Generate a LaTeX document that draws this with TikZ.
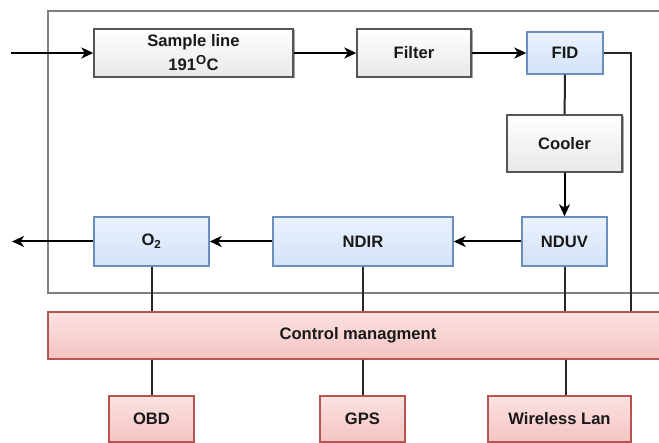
\documentclass[tikz,border=0pt]{standalone}
\usepackage{fontspec}
\setmainfont{Liberation Sans}
\usetikzlibrary{arrows.meta,shadows}
\definecolor{gborder}{HTML}{555555}
\definecolor{bborder}{HTML}{6C8EBF}
\definecolor{rborder}{HTML}{B85450}
\definecolor{frame}{HTML}{808080}
\definecolor{HTML-b0}{HTML}{EAF2FD}
\definecolor{HTML-b1}{HTML}{D3E2F8}
\definecolor{HTML-r0}{HTML}{FBE2E1}
\definecolor{HTML-r1}{HTML}{F4C4C2}
\tikzset{
  base/.style={draw, line width=1.4pt, align=center, inner sep=0pt, font=\fontsize{16.6}{24}\selectfont\bfseries, text=black!90},
  gbox/.style={base, draw=gborder, top color=white, bottom color=black!9,
     drop shadow={shadow xshift=1.5pt, shadow yshift=-1.5pt, opacity=0.35, fill=black}},
  bbox/.style={base, draw=bborder, top color=HTML-b0, bottom color=HTML-b1},
  rbox/.style={base, draw=rborder, top color=HTML-r0, bottom color=HTML-r1},
  arr/.style={draw=black, line width=2pt, -{Stealth[length=12pt,width=11pt,inset=3.5pt]}},
  ln/.style={draw=black!85, line width=2pt},
}
\begin{document}
\begin{tikzpicture}[x=1pt,y=-1pt]
\useasboundingbox (0,0) rectangle (659,443);
\clip (0,0) rectangle (659,443);
% frame
\draw[frame, line width=1.3pt] (690,11) -- (48,11) -- (48,293) -- (690,293);
% nodes
\node[gbox, minimum width=199pt, minimum height=48pt] (sample) at (193.5,53) {Sample line\\191\textsuperscript{\fontsize{13}{13}\selectfont O}C};
\node[gbox, minimum width=114pt, minimum height=48pt] (filter) at (414,53) {Filter};
\node[bbox, minimum width=76pt, minimum height=42pt] (fid) at (565,53) {FID};
\node[gbox, minimum width=115pt, minimum height=57pt] (cooler) at (564.5,143.5) {Cooler};
\node[bbox, minimum width=85pt, minimum height=49pt] (nduv) at (564.5,241.5) {NDUV};
\node[bbox, minimum width=180pt, minimum height=49pt] (ndir) at (363,241.5) {NDIR};
\node[bbox, minimum width=115pt, minimum height=49pt] (o2) at (151.5,241.5) {O\textsubscript{2}};
\node[rbox, minimum width=620pt, minimum height=47pt] (ctrl) at (358,335.5) {Control managment};
\node[rbox, minimum width=85pt, minimum height=46pt] (obd) at (151.5,419) {OBD};
\node[rbox, minimum width=85pt, minimum height=46pt] (gps) at (362.5,419) {GPS};
\node[rbox, minimum width=143pt, minimum height=46pt] (wl) at (559.5,419) {Wireless Lan};
% coordinates
\coordinate (in) at (11,53);
\coordinate (out) at (12,241.5);
\coordinate (fr) at (631,0);
\coordinate (wlx) at (566,0);
% connectors
\draw[arr] (in) -- (sample);
\draw[arr] (sample) -- (filter);
\draw[arr] (filter) -- (fid);
\draw[ln] (fid.east) -| (fr |- ctrl.north);
\draw[ln] (fid) -- (cooler);
\draw[arr] (cooler) -- (nduv);
\draw[arr] (nduv) -- (ndir);
\draw[arr] (ndir) -- (o2);
\draw[arr] (o2) -- (out);
\draw[ln] (o2.south) -- (o2.south |- ctrl.north);
\draw[ln] (ndir.south) -- (ndir.south |- ctrl.north);
\draw[ln] (nduv.south) -- (nduv.south |- ctrl.north);
\draw[ln] (obd.north |- ctrl.south) -- (obd.north);
\draw[ln] (gps.north |- ctrl.south) -- (gps.north);
\draw[ln] (wlx |- ctrl.south) -- (wlx |- wl.north);
\end{tikzpicture}
\end{document}
